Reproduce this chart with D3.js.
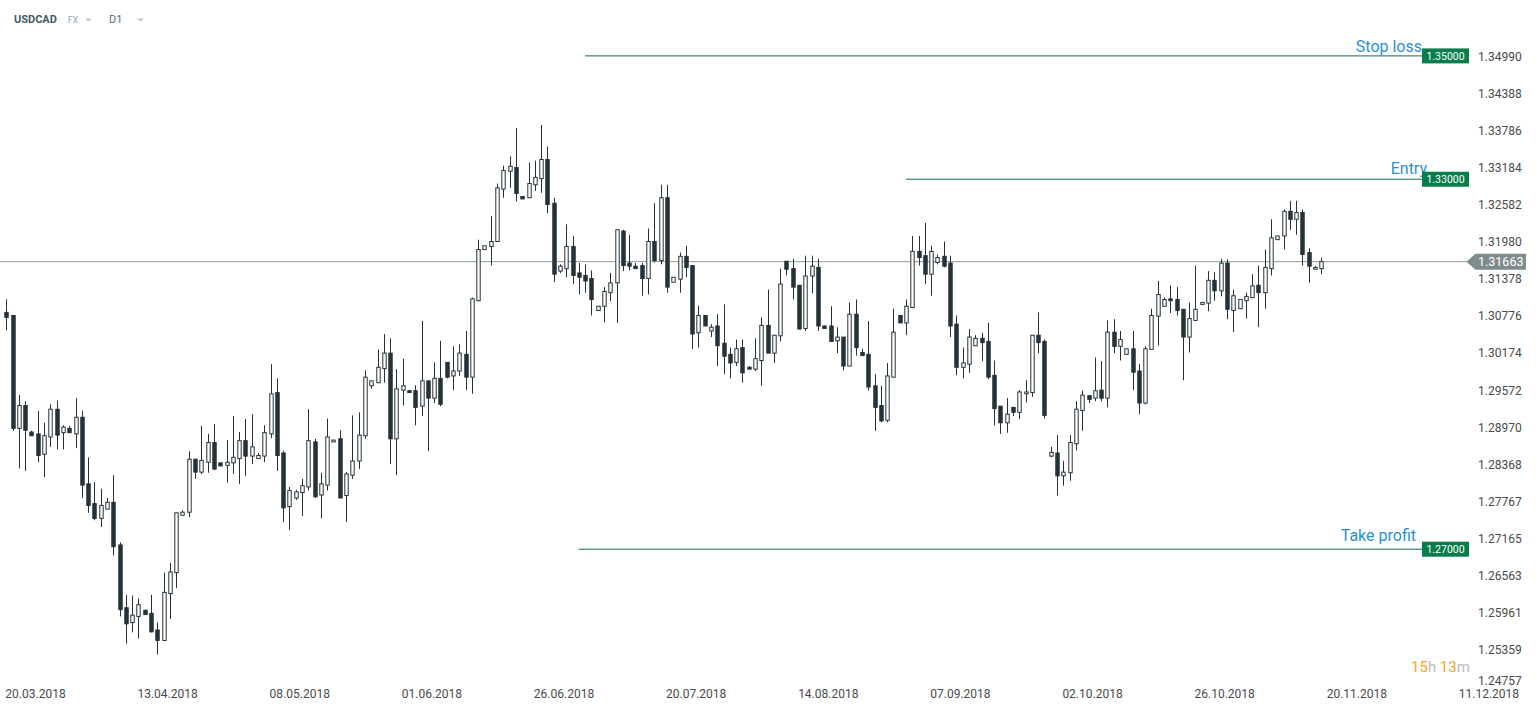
<!DOCTYPE html>
<html>
<head>
<meta charset="utf-8">
<script src="https://cdn.jsdelivr.net/npm/d3@7"></script>
<style>
  body { margin: 0; background: #fff; font-family: Roboto, "Open Sans", sans-serif; }
</style>
</head>
<body>
<div id="chart"></div>
<script>
// daily USDCAD candles, oldest first
var openP = [1.3084,1.3079,1.2896,1.2933,1.2890,1.2887,1.2854,1.2882,1.2927,1.2889,
  1.2896,1.2887,1.2914,1.2806,1.2774,1.2750,1.2765,1.2776,1.2707,1.2605,
  1.2581,1.2591,1.2601,1.2596,1.2569,1.2552,1.2628,1.2662,1.2755,1.2760,
  1.2846,1.2825,1.2841,1.2873,1.2840,1.2836,1.2840,1.2847,1.2876,1.2851,
  1.2847,1.2851,1.2887,1.2954,1.2856,1.2769,1.2783,1.2792,1.2801,1.2874,
  1.2788,1.2804,1.2874,1.2879,1.2787,1.2820,1.2843,1.2884,1.2965,1.2970,
  1.2993,1.3018,1.2879,1.2958,1.2957,1.2957,1.2932,1.2973,1.2945,1.2977,
  1.3003,1.2981,1.2989,1.3016,1.2979,1.3103,1.3186,1.3191,1.3199,1.3284,
  1.3313,1.3319,1.3272,1.3270,1.3291,1.3301,1.3332,1.3261,1.3151,1.3155,
  1.3191,1.3148,1.3144,1.3139,1.3087,1.3094,1.3116,1.3132,1.3216,1.3164,
  1.3159,1.3160,1.3139,1.3199,1.3168,1.3270,1.3133,1.3138,1.3175,1.3160,
  1.3051,1.3079,1.3054,1.3062,1.3034,1.3016,1.3003,1.3027,1.2995,1.2992,
  1.3006,1.3063,1.3018,1.3046,1.3167,1.3155,1.3128,1.3058,1.3143,1.3157,
  1.3062,1.3062,1.3038,1.3044,1.2997,1.3081,1.3019,1.3016,1.2965,1.2933,
  1.2909,1.2979,1.3079,1.3067,1.3092,1.3183,1.3176,1.3146,1.3165,1.3175,
  1.3164,1.3065,1.2995,1.3000,1.3030,1.3042,1.3037,1.2982,1.2932,1.2905,
  1.2930,1.2922,1.2952,1.2954,1.3047,1.3037,1.2851,1.2856,1.2819,1.2824,
  1.2871,1.2925,1.2949,1.2945,1.2958,1.2945,1.3052,1.3029,1.3016,1.3025,
  1.2989,1.2937,1.3024,1.3078,1.3094,1.3106,1.3105,1.3089,1.3044,1.3071,
  1.3097,1.3099,1.3136,1.3119,1.3164,1.3087,1.3090,1.3103,1.3108,1.3128,
  1.3116,1.3155,1.3202,1.3208,1.3248,1.3235,1.3246,1.3181,1.3154,1.3155];

var highP = [1.3105,1.3079,1.2950,1.2940,1.2892,1.2924,1.2905,1.2935,1.2941,1.2901,
  1.2900,1.2945,1.2925,1.2849,1.2809,1.2798,1.2783,1.2820,1.2711,1.2626,
  1.2625,1.2620,1.2602,1.2626,1.2581,1.2662,1.2678,1.2759,1.2763,1.2859,
  1.2846,1.2900,1.2887,1.2903,1.2840,1.2877,1.2916,1.2890,1.2911,1.2919,
  1.2856,1.2901,1.3000,1.2977,1.2860,1.2801,1.2796,1.2814,1.2927,1.2879,
  1.2824,1.2912,1.2877,1.2893,1.2825,1.2917,1.2922,1.2990,1.2973,1.3024,
  1.3049,1.3042,1.2992,1.3009,1.2958,1.2966,1.3070,1.2973,1.3003,1.3038,
  1.3003,1.3029,1.3032,1.3054,1.3108,1.3202,1.3192,1.3240,1.3293,1.3322,
  1.3337,1.3383,1.3272,1.3327,1.3330,1.3388,1.3353,1.3270,1.3162,1.3227,
  1.3208,1.3164,1.3162,1.3152,1.3094,1.3125,1.3148,1.3218,1.3218,1.3210,
  1.3164,1.3164,1.3220,1.3261,1.3291,1.3291,1.3141,1.3181,1.3192,1.3160,
  1.3095,1.3079,1.3065,1.3081,1.3097,1.3027,1.3040,1.3040,1.2997,1.3042,
  1.3076,1.3121,1.3047,1.3155,1.3167,1.3171,1.3128,1.3176,1.3176,1.3171,
  1.3063,1.3094,1.3060,1.3044,1.3100,1.3105,1.3025,1.3070,1.2984,1.2965,
  1.3002,1.3090,1.3079,1.3105,1.3208,1.3208,1.3229,1.3192,1.3178,1.3199,
  1.3176,1.3079,1.3027,1.3057,1.3047,1.3051,1.3067,1.3006,1.2932,1.2945,
  1.2930,1.2958,1.2974,1.3047,1.3084,1.3040,1.2866,1.2885,1.2843,1.2885,
  1.2940,1.2957,1.2949,1.3011,1.3005,1.3071,1.3073,1.3054,1.3025,1.3054,
  1.3000,1.3029,1.3090,1.3135,1.3108,1.3128,1.3125,1.3089,1.3100,1.3160,
  1.3100,1.3151,1.3149,1.3171,1.3170,1.3121,1.3105,1.3116,1.3146,1.3160,
  1.3186,1.3235,1.3208,1.3251,1.3265,1.3265,1.3251,1.3188,1.3159,1.3173];

var lowP = [1.3055,1.2892,1.2831,1.2827,1.2884,1.2841,1.2817,1.2866,1.2862,1.2862,
  1.2889,1.2864,1.2783,1.2759,1.2747,1.2736,1.2765,1.2690,1.2591,1.2547,
  1.2565,1.2555,1.2594,1.2565,1.2529,1.2552,1.2587,1.2637,1.2755,1.2752,
  1.2814,1.2822,1.2824,1.2828,1.2835,1.2808,1.2822,1.2806,1.2819,1.2838,
  1.2847,1.2841,1.2880,1.2827,1.2744,1.2731,1.2780,1.2754,1.2795,1.2783,
  1.2750,1.2795,1.2874,1.2783,1.2744,1.2814,1.2830,1.2879,1.2960,1.2970,
  1.2970,1.2838,1.2820,1.2933,1.2954,1.2901,1.2916,1.2859,1.2937,1.2932,
  1.2977,1.2958,1.2981,1.2958,1.2952,1.3102,1.3186,1.3160,1.3199,1.3270,
  1.3286,1.3264,1.3268,1.3270,1.3281,1.3278,1.3245,1.3133,1.3148,1.3141,
  1.3130,1.3113,1.3116,1.3079,1.3087,1.3068,1.3102,1.3067,1.3151,1.3152,
  1.3155,1.3111,1.3113,1.3165,1.3162,1.3116,1.3133,1.3116,1.3141,1.3025,
  1.3027,1.3062,1.3044,1.2997,1.2984,1.2977,1.2997,1.2970,1.2992,1.2989,
  1.2965,1.3018,1.3002,1.3037,1.3144,1.3105,1.3057,1.3054,1.3115,1.3054,
  1.3058,1.3037,1.3018,1.2990,1.2997,1.3014,1.3014,1.2957,1.2892,1.2906,
  1.2906,1.2979,1.3067,1.3047,1.3092,1.3160,1.3130,1.3111,1.3162,1.3157,
  1.3044,1.2982,1.2977,1.2986,1.3030,1.3005,1.2976,1.2901,1.2887,1.2889,
  1.2916,1.2911,1.2938,1.2947,1.3018,1.2912,1.2849,1.2787,1.2803,1.2811,
  1.2860,1.2892,1.2937,1.2940,1.2940,1.2930,1.3018,1.3006,1.3016,1.2958,
  1.2919,1.2935,1.3024,1.3030,1.3094,1.3083,1.3079,1.2974,1.3019,1.3071,
  1.3097,1.3086,1.3103,1.3110,1.3073,1.3052,1.3090,1.3074,1.3108,1.3060,
  1.3090,1.3144,1.3202,1.3186,1.3218,1.3210,1.3160,1.3132,1.3154,1.3146];

var closeP = [1.3076,1.2896,1.2933,1.2893,1.2884,1.2852,1.2884,1.2927,1.2885,1.2898,
  1.2889,1.2914,1.2804,1.2771,1.2750,1.2771,1.2776,1.2704,1.2602,1.2579,
  1.2593,1.2610,1.2594,1.2566,1.2552,1.2630,1.2663,1.2759,1.2760,1.2846,
  1.2825,1.2844,1.2873,1.2830,1.2835,1.2841,1.2849,1.2876,1.2851,1.2866,
  1.2852,1.2889,1.2952,1.2852,1.2767,1.2795,1.2793,1.2803,1.2876,1.2785,
  1.2806,1.2882,1.2877,1.2783,1.2822,1.2843,1.2885,1.2979,1.2973,1.2995,
  1.3018,1.2879,1.2960,1.2965,1.2954,1.2930,1.2973,1.2945,1.2977,1.2935,
  1.2979,1.2989,1.3018,1.2979,1.3106,1.3186,1.3192,1.3199,1.3286,1.3314,
  1.3321,1.3277,1.3268,1.3293,1.3303,1.3332,1.3259,1.3146,1.3159,1.3191,
  1.3144,1.3141,1.3135,1.3105,1.3094,1.3118,1.3132,1.3218,1.3160,1.3159,
  1.3155,1.3139,1.3199,1.3168,1.3270,1.3125,1.3141,1.3175,1.3157,1.3049,
  1.3079,1.3062,1.3060,1.3030,1.3013,1.3002,1.3025,1.2986,1.2992,1.3009,
  1.3063,1.3018,1.3047,1.3130,1.3154,1.3125,1.3057,1.3143,1.3159,1.3062,
  1.3058,1.3037,1.3044,1.2997,1.3081,1.3027,1.3014,1.2963,1.2930,1.2908,
  1.2981,1.3052,1.3067,1.3094,1.3183,1.3173,1.3146,1.3183,1.3173,1.3159,
  1.3062,1.2995,1.3002,1.3044,1.3042,1.3035,1.2979,1.2928,1.2905,1.2919,
  1.2922,1.2955,1.2955,1.3047,1.3035,1.2917,1.2857,1.2819,1.2825,1.2873,
  1.2927,1.2950,1.2943,1.2957,1.2945,1.3052,1.3029,1.3040,1.3025,1.2987,
  1.2937,1.3025,1.3079,1.3113,1.3105,1.3103,1.3087,1.3044,1.3074,1.3089,
  1.3100,1.3136,1.3119,1.3164,1.3089,1.3111,1.3105,1.3110,1.3127,1.3116,
  1.3157,1.3205,1.3208,1.3248,1.3235,1.3246,1.3178,1.3159,1.3157,1.31663];

// axis labels
var priceLabels = ['1.34990','1.34388','1.33786','1.33184','1.32582','1.31980','1.31378',
  '1.30776','1.30174','1.29572','1.28970','1.28368','1.27767','1.27165','1.26563',
  '1.25961','1.25359','1.24757'];
var dateLabels = ['20.03.2018','13.04.2018','08.05.2018','01.06.2018','26.06.2018',
  '20.07.2018','14.08.2018','07.09.2018','02.10.2018','26.10.2018','20.11.2018','11.12.2018'];

// trade levels (start = candle index where the line begins)
var levelNames = ['Stop loss', 'Entry', 'Take profit'];
var levelPrices = [1.35, 1.33, 1.27];
var levelStart = [92, 143, 91];
var lastPrice = 1.31663;

// layout
var W = 1538, H = 712;
var dateTickFirst = 4.64, dateTickEvery = 21;
var labelEnd = [1422, 1427, 1416];
var labelDy = [-3.5, -5, -8];
var tagX = 1422, tagW = 47, tagH = 15;

var svg = d3.select('#chart').append('svg')
    .attr('width', W)
    .attr('height', H);

var xScale = d3.scaleLinear()
    .domain([0, openP.length - 1])
    .range([6.3, 1321.3]);
var yScale = d3.scaleLinear()
    .domain([1.27, 1.35])
    .range([549.2, 55.9]);

// current price line (drawn under the candles)
svg.append('line')
    .attr('x1', 0)
    .attr('x2', 1467)
    .attr('y1', yScale(lastPrice))
    .attr('y2', yScale(lastPrice))
    .style('stroke', '#8e999b')
    .style('stroke-width', 1);

// candles
var idx = d3.range(openP.length);
var candleColor = '#263238';
var cg = svg.append('g').attr('class', 'candles');

cg.selectAll('line.wick')
    .data(idx)
    .enter().append('line')
    .attr('class', 'wick')
    .attr('x1', function(d){ return Math.round(xScale(d)) + 0.5; })
    .attr('x2', function(d){ return Math.round(xScale(d)) + 0.5; })
    .attr('y1', function(d){ return yScale(highP[d]); })
    .attr('y2', function(d){ return yScale(lowP[d]); })
    .style('stroke', candleColor)
    .style('stroke-width', 1);

cg.selectAll('rect.body')
    .data(idx)
    .enter().append('rect')
    .attr('class', 'body')
    .attr('x', function(d){ return Math.round(xScale(d)) + 0.5 - 1.7; })
    .attr('width', 3.4)
    .attr('y', function(d){ return yScale(Math.max(openP[d], closeP[d])); })
    .attr('height', function(d){
        var h = yScale(Math.min(openP[d], closeP[d])) - yScale(Math.max(openP[d], closeP[d]));
        return Math.max(h, 1.5);
    })
    .style('fill', function(d){ return closeP[d] >= openP[d] ? '#fff' : candleColor; })
    .style('stroke', candleColor)
    .style('stroke-width', 1);

// trade levels
levelNames.forEach(function(name, i){
    var ly = yScale(levelPrices[i]);
    svg.append('line')
        .attr('x1', xScale(levelStart[i]))
        .attr('x2', tagX)
        .attr('y1', ly)
        .attr('y2', ly)
        .style('stroke', '#0c6e48')
        .style('stroke-width', 1);
    svg.append('text')
        .attr('x', labelEnd[i])
        .attr('y', ly + labelDy[i])
        .attr('text-anchor', 'end')
        .style('font-size', '16px')
        .style('fill', '#2b8fd6')
        .text(name);
    svg.append('rect')
        .attr('x', tagX)
        .attr('y', ly - tagH / 2)
        .attr('width', tagW)
        .attr('height', tagH)
        .style('fill', '#0b7d4c');
    svg.append('text')
        .attr('x', tagX + tagW / 2)
        .attr('y', ly + 4)
        .attr('text-anchor', 'middle')
        .style('font-size', '10.5px')
        .style('fill', '#fff')
        .text(levelPrices[i].toFixed(5));
});

// price axis on the right
svg.append('g').selectAll('text')
    .data(priceLabels)
    .enter().append('text')
    .attr('x', 1478)
    .attr('y', function(d){ return Math.min(yScale(+d), 681) + 4; })
    .style('font-size', '12px')
    .style('fill', '#4a4a4a')
    .text(function(d){ return d; });

// last price tag
var ty = yScale(lastPrice);
svg.append('path')
    .attr('d', 'M1466.5,' + ty + 'L1475.5,' + (ty - 8) + 'L1526,' + (ty - 8) +
               'L1526,' + (ty + 8) + 'L1475.5,' + (ty + 8) + 'Z')
    .style('fill', '#7f8c8d');
svg.append('text')
    .attr('x', 1478)
    .attr('y', ty + 4.5)
    .style('font-size', '12.5px')
    .style('fill', '#fff')
    .text(lastPrice.toFixed(5));

// date axis
svg.append('g').selectAll('text')
    .data(dateLabels)
    .enter().append('text')
    .attr('x', function(d, i){ return xScale(dateTickFirst + dateTickEvery * i); })
    .attr('y', 698)
    .attr('text-anchor', 'middle')
    .style('font-size', '12px')
    .style('fill', '#4a4a4a')
    .text(function(d){ return d; });

// header: symbol, market, interval
var hdr = svg.append('g');
hdr.append('text').attr('x', 14).attr('y', 23)
    .style('font-size', '11px').style('font-weight', 'bold').style('fill', '#455a64')
    .text('USDCAD');
hdr.append('text').attr('x', 68).attr('y', 22.5)
    .style('font-size', '8.5px').style('fill', '#90a4ae')
    .text('FX');
hdr.append('text').attr('x', 109).attr('y', 23)
    .style('font-size', '11px').style('fill', '#546e7a')
    .text('D1');
[85, 137].forEach(function(cx){
    hdr.append('path')
        .attr('d', 'M' + cx + ',18.5L' + (cx + 7) + ',18.5L' + (cx + 3.5) + ',21.5Z')
        .style('fill', '#c4c4c4');
});

// candle countdown
var cd = svg.append('text')
    .attr('x', 1411)
    .attr('y', 671.5)
    .style('font-size', '15px');
cd.append('tspan').style('fill', '#f7a21b').text('15');
cd.append('tspan').style('fill', '#b9bdc0').text('h ');
cd.append('tspan').style('fill', '#f7a21b').text('13');
cd.append('tspan').style('fill', '#b9bdc0').text('m');
</script>
</body>
</html>
